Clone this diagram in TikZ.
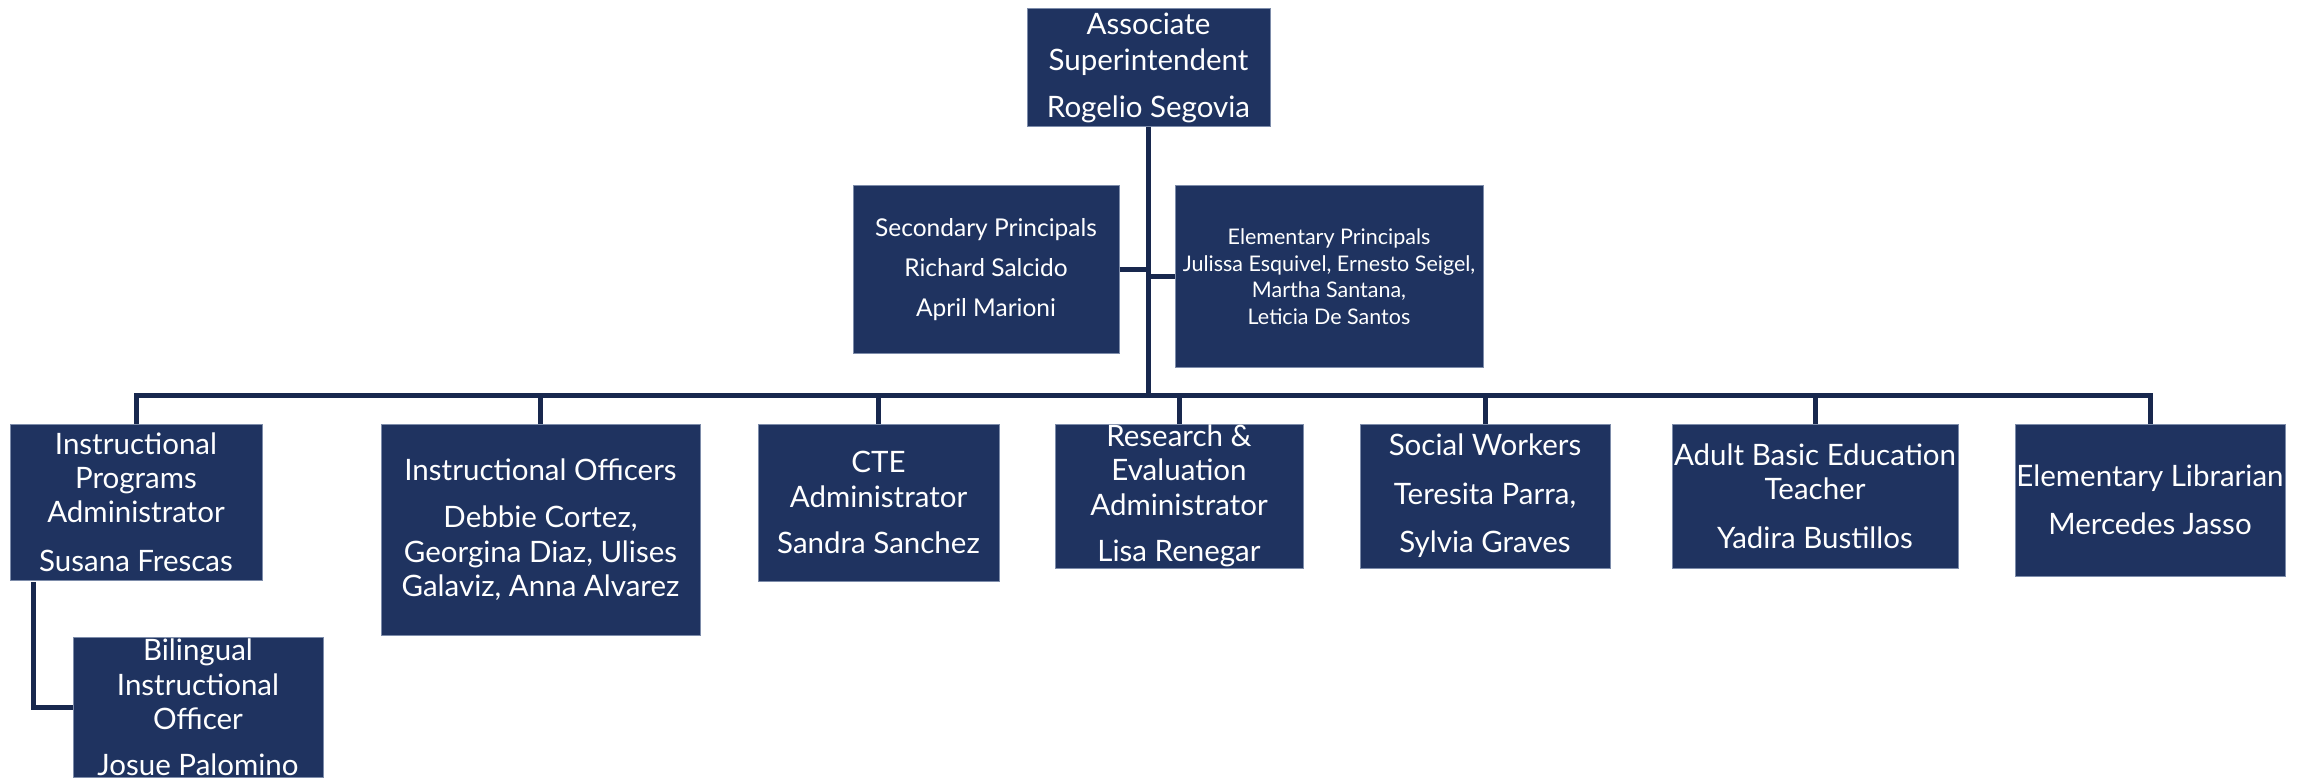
\documentclass[tikz,border=0pt]{standalone}
\usepackage{fontspec}
\newfontfamily\gill{Lato}
\definecolor{boxfill}{RGB}{31,51,96}
\definecolor{boxedge}{RGB}{125,140,170}
\definecolor{linecol}{RGB}{24,40,78}
\tikzset{
  box/.style={draw=boxedge, fill=boxfill, text=white, line width=1pt, inner sep=0pt, align=center},
  big/.style={font=\gill\fontsize{29.5}{34.5}\selectfont},
  conn/.style={draw=linecol, line width=5pt}
}
\begin{document}
\begin{tikzpicture}[x=1pt,y=-1pt]
\useasboundingbox (0,0) rectangle (2318,778);
\node[box, font=\gill\fontsize{29.5}{36}\selectfont, minimum width=243, minimum height=118] (top) at (1148.5,68) {Associate\\Superintendent\\[11pt]Rogelio Segovia};
\node[box, font=\gill\fontsize{24.5}{40}\selectfont, minimum width=266, minimum height=167] (sec) at (986,269.5) {Secondary Principals\\Richard Salcido\\April Marioni};
\node[box, font=\gill\fontsize{21.5}{26.5}\selectfont, minimum width=308, minimum height=181] (elem) at (1329,276.5) {Elementary Principals\\Julissa Esquivel, Ernesto Seigel,\\Martha Santana,\\Leticia De Santos};
\node[box, big, minimum width=252, minimum height=156] (b1) at (136,502) {Instructional\\Programs\\Administrator\\[14pt]Susana Frescas};
\node[box, big, minimum width=319, minimum height=211] (b2) at (540.5,529.5) {Instructional Officers\\[13pt]Debbie Cortez,\\Georgina Diaz, Ulises\\Galaviz, Anna Alvarez};
\node[box, big, minimum width=241, minimum height=157] (b3) at (878.5,502.5) {CTE\\Administrator\\[12pt]Sandra Sanchez};
\node[box, big, minimum width=248, minimum height=144] (b4) at (1179,496) {Research \&\\Evaluation\\Administrator\\[12pt]Lisa Renegar};
\node[box, big, minimum width=250, minimum height=144] (b5) at (1485,496) {Social Workers\\[14pt]Teresita Parra,\\[14pt]Sylvia Graves};
\node[box, big, minimum width=286, minimum height=144] (b6) at (1815,496) {Adult Basic Education\\Teacher\\[14pt]Yadira Bustillos};
\node[box, big, minimum width=270, minimum height=152] (b7) at (2150,500) {Elementary Librarian\\[14pt]Mercedes Jasso};
\node[box, big, minimum width=250, minimum height=140] (bil) at (198,707) {Bilingual\\Instructional\\Officer\\[11pt]Josue Palomino};
\coordinate (busL) at (136,395);
\coordinate (lstart) at (33,582);
\draw[conn] (top.south) -- (top.south |- busL);
\draw[conn] (sec.east) -- (sec.east -| top.south);
\draw[conn] (elem.west) -- (elem.west -| top.south);
\draw[conn, line cap=rect] (b1.north |- busL) -- (b7.north |- busL);
\foreach \n in {b1,b2,b3,b4,b5,b6,b7} {\draw[conn] (\n.north) -- (\n.north |- busL);}
\draw[conn] (lstart) |- (bil.west);
\end{tikzpicture}
\end{document}
